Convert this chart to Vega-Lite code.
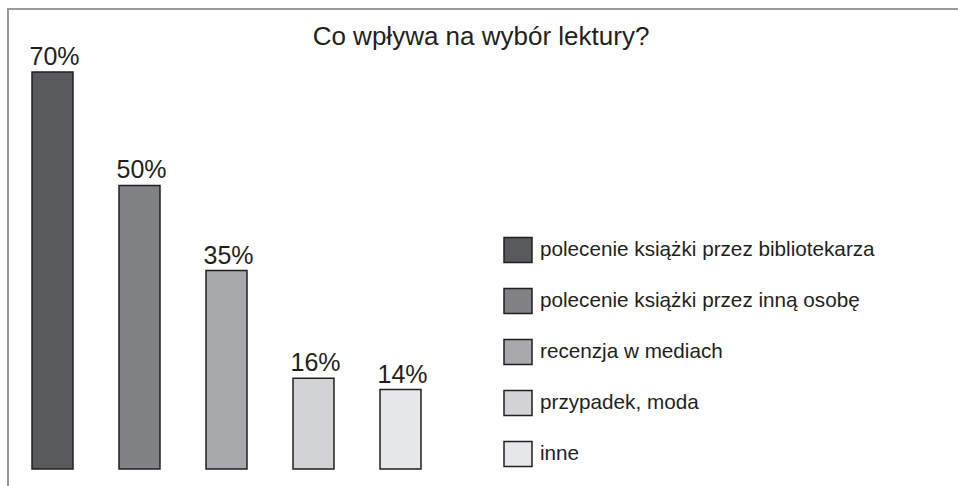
{
  "$schema": "https://vega.github.io/schema/vega-lite/v6.json",
  "width": 950,
  "height": 477,
  "autosize": {"type": "none"},
  "padding": {"left": 8, "top": 9, "right": 0, "bottom": 0},
  "background": "white",
  "config": {
    "view": {"stroke": "#9a9a9a", "strokeWidth": 2, "strokeDash": [950, 1427, 477, 10]},
    "font": "Liberation Sans"
  },
  "title": {
    "text": "Co wpływa na wybór lektury?",
    "fontSize": 26,
    "font": "Liberation Sans",
    "fontWeight": "normal",
    "color": "#231f20",
    "anchor": "middle",
    "frame": "group",
    "baseline": "alphabetic",
    "offset": -62,
    "dx": -2
  },
  "data": {
    "values": [
      {"category": "polecenie książki przez bibliotekarza", "value": 70, "label": "70%"},
      {"category": "polecenie książki przez inną osobę", "value": 50, "label": "50%"},
      {"category": "recenzja w mediach", "value": 35, "label": "35%"},
      {"category": "przypadek, moda", "value": 16, "label": "16%"},
      {"category": "inne", "value": 14, "label": "14%"}
    ]
  },
  "encoding": {
    "x": {
      "field": "category",
      "type": "nominal",
      "sort": null,
      "axis": null,
      "scale": {"range": [1, 436], "paddingInner": 0.529, "paddingOuter": 0.2645}
    },
    "y": {
      "field": "value",
      "type": "quantitative",
      "axis": null,
      "scale": {"domain": [0, 70], "range": [460, 63]}
    }
  },
  "layer": [
    {
      "mark": {"type": "bar", "stroke": "#231f20", "strokeWidth": 1.5},
      "encoding": {
        "color": {
          "field": "category",
          "type": "nominal",
          "sort": null,
          "scale": {"range": ["#58595b", "#808285", "#a7a9ac", "#d1d3d4", "#e6e7e8"]},
          "legend": {
            "orient": "none",
            "legendX": 495,
            "legendY": 226,
            "title": null,
            "symbolType": "M-1,-0.893H1V0.893H-1Z",
            "symbolSize": 784,
            "symbolStrokeColor": "#231f20",
            "symbolStrokeWidth": 1.5,
            "symbolOpacity": 1,
            "labelFontSize": 20.7,
            "labelFont": "Liberation Sans",
            "labelColor": "#231f20",
            "labelOffset": 7,
            "labelLimit": 420,
            "rowPadding": 19,
            "padding": 0
          }
        }
      }
    },
    {
      "mark": {"type": "text", "baseline": "alphabetic", "dy": -7, "dx": 2, "fontSize": 25, "color": "#231f20", "font": "Liberation Sans"},
      "encoding": {"text": {"field": "label"}}
    }
  ]
}
